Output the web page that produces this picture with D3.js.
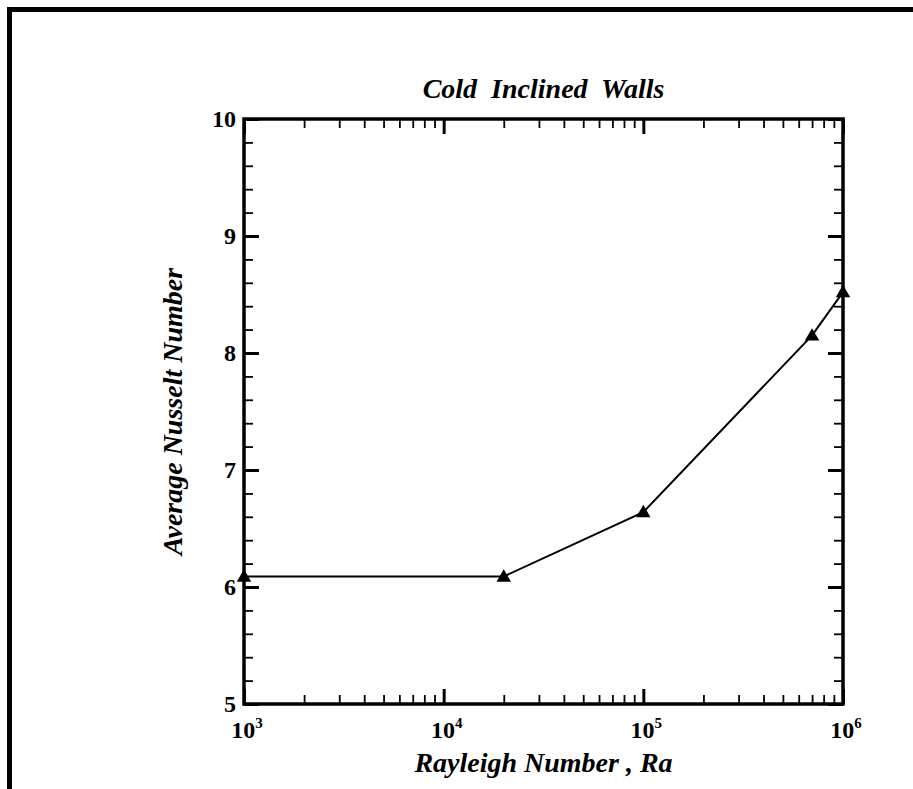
<!DOCTYPE html>
<html>
<head>
<meta charset="utf-8">
<script src="https://cdn.jsdelivr.net/npm/d3@7"></script>
<style>
  body { margin: 0; background: #fff; }
  svg text { font-family: "Liberation Serif", "Times New Roman", serif; font-weight: bold; fill: #000; }
</style>
</head>
<body>
<svg id="nusselt"></svg>
<script>
// data
const rayleigh = [1e3, 2e4, 1e5, 7e5, 1e6];
const nusselt = [6.09, 6.09, 6.64, 8.15, 8.52];
const xMajor = [1e3, 1e4, 1e5, 1e6];
const xMajorExp = ['3', '4', '5', '6'];
const yMajor = [5, 6, 7, 8, 9, 10];

const W = 913, H = 789;
const plotL = 244, plotR = 843, plotT = 119, plotB = 704;

const svg = d3.select('svg#nusselt')
  .attr('width', W)
  .attr('height', H);

// outer frame (runs off the right / bottom edge like the original)
svg.append('rect')
  .attr('x', 9.5).attr('y', 9.5)
  .attr('width', 1000).attr('height', 1000)
  .attr('fill', 'none')
  .attr('stroke', '#000')
  .attr('stroke-width', 5);

const x = d3.scaleLog().domain([1e3, 1e6]).range([plotL, plotR]);
const y = d3.scaleLinear().domain([5, 10]).range([plotB, plotT]);

const xMinor = x.ticks().filter(v => !xMajor.includes(v));
const yMinor = d3.range(5, 10.001, 0.2).filter(v => Math.abs(v - Math.round(v)) > 1e-6);

function styleAxis(g, w) {
  g.select('.domain').remove();
  g.selectAll('.tick line').attr('stroke', '#000').attr('stroke-width', w);
  g.selectAll('.tick text').remove();
}

// x axes: bottom + top, ticks inward
[[d3.axisBottom, plotB], [d3.axisTop, plotT]].forEach(([ax, ty]) => {
  svg.append('g')
    .attr('transform', `translate(0,${ty})`)
    .call(ax(x).tickValues(xMinor).tickSize(-9).tickSizeOuter(0))
    .call(g => styleAxis(g, 1.8));
  svg.append('g')
    .attr('transform', `translate(0,${ty})`)
    .call(ax(x).tickValues(xMajor).tickSize(-15).tickSizeOuter(0))
    .call(g => styleAxis(g, 3));
});

// y axes: left + right, ticks inward
[[d3.axisLeft, plotL], [d3.axisRight, plotR]].forEach(([ax, tx]) => {
  svg.append('g')
    .attr('transform', `translate(${tx},0)`)
    .call(ax(y).tickValues(yMinor).tickSize(-9).tickSizeOuter(0))
    .call(g => styleAxis(g, 1.8));
  svg.append('g')
    .attr('transform', `translate(${tx},0)`)
    .call(ax(y).tickValues(yMajor).tickSize(-15).tickSizeOuter(0))
    .call(g => styleAxis(g, 3));
});

// frame of the plot area
svg.append('rect')
  .attr('x', plotL).attr('y', plotT)
  .attr('width', plotR - plotL).attr('height', plotB - plotT)
  .attr('fill', 'none')
  .attr('stroke', '#000')
  .attr('stroke-width', 3.5);

// x tick labels with superscripts
const xl = svg.append('g').selectAll('text')
  .data(xMajor)
  .enter()
  .append('text')
  .attr('x', d => x(d) + 3)
  .attr('y', 738)
  .attr('text-anchor', 'middle')
  .attr('font-size', 24);
xl.append('tspan').text('10');
xl.append('tspan')
  .attr('dy', -10)
  .attr('font-size', 15)
  .text((d, i) => xMajorExp[i]);

// y tick labels
svg.append('g').selectAll('text')
  .data(yMajor)
  .enter()
  .append('text')
  .attr('x', 236)
  .attr('y', d => y(d))
  .attr('dy', '0.35em')
  .attr('text-anchor', 'end')
  .attr('font-size', 24)
  .text(d => d);

// data line + triangles
const pts = rayleigh.map((r, i) => [r, nusselt[i]]);

svg.append('path')
  .datum(pts)
  .attr('fill', 'none')
  .attr('stroke', '#000')
  .attr('stroke-width', 2)
  .attr('d', d3.line().x(d => x(d[0])).y(d => y(d[1])));

svg.append('g').selectAll('path')
  .data(pts)
  .enter()
  .append('path')
  .attr('transform', d => `translate(${x(d[0])},${y(d[1]) + 1})`)
  .attr('d', d3.symbol().type(d3.symbolTriangle).size(90))
  .attr('fill', '#000');

// titles
svg.append('text')
  .attr('x', (plotL + plotR) / 2)
  .attr('y', 98)
  .attr('text-anchor', 'middle')
  .attr('font-size', 28)
  .attr('font-style', 'italic')
  .attr('xml:space', 'preserve')
  .text('Cold  Inclined  Walls');

svg.append('text')
  .attr('x', (plotL + plotR) / 2)
  .attr('y', 772)
  .attr('text-anchor', 'middle')
  .attr('font-size', 28)
  .attr('font-style', 'italic')
  .text('Rayleigh Number , Ra');

svg.append('text')
  .attr('transform', `translate(182, ${(plotT + plotB) / 2}) rotate(-90)`)
  .attr('text-anchor', 'middle')
  .attr('font-size', 28)
  .attr('font-style', 'italic')
  .text('Average Nusselt Number');
</script>
</body>
</html>
